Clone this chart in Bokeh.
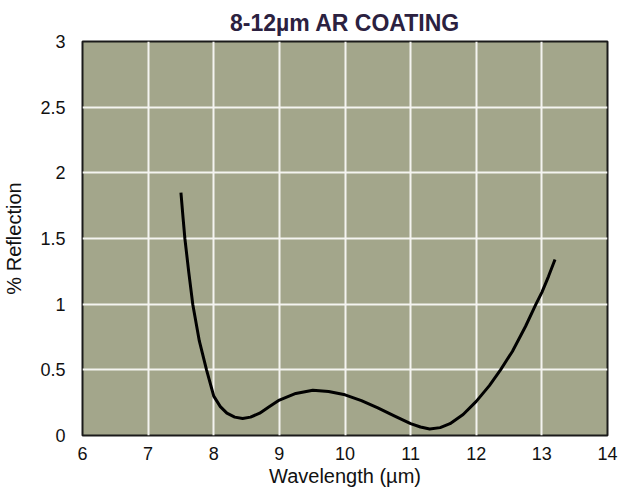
from bokeh.plotting import figure
from bokeh.models import FixedTicker, Range1d
from bokeh.embed import file_html
from bokeh.resources import INLINE

# Data
wavelength = [7.50, 7.53, 7.56, 7.62, 7.68, 7.78, 7.89, 8.00, 8.10, 8.20, 8.32, 8.44,
              8.56, 8.70, 8.85, 9.00, 9.25, 9.51, 9.75, 10.00, 10.25, 10.50, 10.75,
              11.00, 11.15, 11.29, 11.45, 11.60, 11.80, 12.00, 12.20, 12.37, 12.55,
              12.75, 12.91, 13.00, 13.10, 13.20]
reflection = [1.85, 1.67, 1.50, 1.24, 1.00, 0.72, 0.50, 0.30, 0.22, 0.17, 0.14, 0.13,
              0.14, 0.17, 0.22, 0.27, 0.32, 0.345, 0.335, 0.31, 0.265, 0.21, 0.15,
              0.09, 0.065, 0.05, 0.06, 0.09, 0.16, 0.26, 0.38, 0.50, 0.64,
              0.83, 1.00, 1.09, 1.21, 1.34]

x_ticks = [6, 7, 8, 9, 10, 11, 12, 13, 14]
y_ticks = [0, 0.5, 1, 1.5, 2, 2.5, 3]
y_tick_labels = ["0", "0.5", "1", "1.5", "2", "2.5", "3"]

title_text = "8-12µm AR COATING"
x_label = "Wavelength (µm)"
y_label = "% Reflection"

p = figure(width=626, height=490,
           x_range=Range1d(6, 14), y_range=Range1d(0, 3),
           output_backend="svg", toolbar_location=None,
           title=title_text,
           min_border_left=82, min_border_right=19,
           min_border_top=41, min_border_bottom=55)

p.border_fill_color = "white"
p.background_fill_color = "#A3A68B"

p.title.align = "center"
p.title.text_font = "Liberation Sans"
p.title.text_font_size = "23px"
p.title.text_font_style = "bold"
p.title.text_color = "#2B2140"
p.title.standoff = 12

p.outline_line_color = "#1a1a1a"
p.outline_line_width = 2
p.outline_line_alpha = 1

p.xaxis.ticker = FixedTicker(ticks=x_ticks)
p.yaxis.ticker = FixedTicker(ticks=y_ticks)
p.yaxis.major_label_overrides = {v: s for v, s in zip(y_ticks, y_tick_labels)}

for ax in (p.xaxis[0], p.yaxis[0]):
    ax.axis_line_color = None
    ax.major_tick_line_color = None
    ax.minor_tick_line_color = None
    ax.major_label_text_font = "Liberation Sans"
    ax.major_label_text_font_size = "18px"
    ax.major_label_text_color = "#111111"
    ax.axis_label_text_font = "Liberation Sans"
    ax.axis_label_text_font_size = "20px"
    ax.axis_label_text_font_style = "normal"
    ax.axis_label_text_color = "#111111"

p.xaxis.axis_label = x_label
p.yaxis.axis_label = y_label
p.xaxis.major_label_standoff = 5
p.xaxis.axis_label_standoff = 2
p.yaxis.major_label_standoff = 11
p.yaxis.axis_label_standoff = 12

p.xgrid.ticker = FixedTicker(ticks=x_ticks)
p.ygrid.ticker = FixedTicker(ticks=y_ticks)
p.grid.grid_line_color = "#F4F4F0"
p.grid.grid_line_width = 2
p.grid.grid_line_alpha = 1

p.line(wavelength, reflection, line_color="black", line_width=3)

open("out.html", "w").write(file_html(p, INLINE))
